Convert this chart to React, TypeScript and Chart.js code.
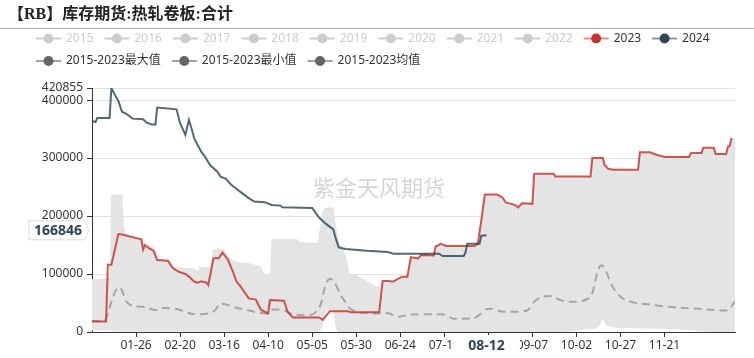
import React, { useEffect, useRef } from 'react';
import { Chart, registerables } from 'chart.js';

Chart.register(...registerables);

const FONT = "'Noto Sans', 'Noto Sans CJK SC', sans-serif";
const TITLE_FONT = "'Liberation Serif', 'Noto Sans CJK SC', serif";

const TITLE = '【RB】库存期货:热轧卷板:合计';
const WATERMARK = '紫金天风期货';

const hiddenYears = ['2015', '2016', '2017', '2018', '2019', '2020', '2021', '2022'];

const xTickDays = [25, 50, 75, 100, 125, 150, 175, 200, 225, 250, 275, 300, 325];
const xTickLabels = ['01-26', '02-20', '03-16', '04-10', '05-05', '05-30', '06-24', '07-19', '08-13', '09-07', '10-02', '10-27', '11-21'];
const yTickValues = [0, 100000, 200000, 300000, 400000, 420855];
const yMax = 420855;
const pointerDay = 224;
const pointerLabel = '08-12';

// 2024 series (day of year index, value)
const s2024Days = [0, 1, 2, 3, 10, 11, 13, 15, 17, 19, 21, 23, 29, 31, 34, 36, 37, 48, 50, 53, 55, 57, 58, 62, 64, 67, 71, 73, 76, 79, 85, 89, 92, 98, 102, 107, 108, 125, 129, 133, 137, 138, 140, 144, 156, 168, 171, 197, 199, 211, 212, 213, 220, 221, 224];
const s2024Values = [365000, 363000, 362000, 369000, 369000, 420855, 409000, 398000, 380000, 377000, 373000, 368000, 367000, 361000, 358000, 358000, 387000, 384000, 360000, 340000, 366000, 346000, 334000, 311000, 303000, 288000, 277000, 268000, 264000, 254000, 240000, 231000, 225000, 224000, 219000, 218000, 215000, 214000, 197000, 186000, 177000, 165000, 146000, 143000, 140000, 138000, 135000, 135000, 131000, 131000, 137000, 152000, 152000, 166000, 166846];

// 2023 series
const s2023Days = [0, 8, 9, 11, 15, 17, 28, 29, 30, 32, 35, 37, 43, 46, 49, 53, 55, 58, 60, 62, 65, 66, 69, 72, 74, 77, 80, 82, 84, 89, 93, 96, 100, 101, 109, 111, 114, 129, 131, 135, 145, 147, 163, 165, 168, 171, 176, 179, 181, 185, 187, 194, 195, 198, 201, 217, 219, 221, 223, 230, 233, 235, 238, 240, 242, 244, 250, 251, 262, 263, 283, 284, 290, 291, 293, 296, 310, 311, 317, 319, 325, 339, 340, 346, 347, 353, 354, 360, 361, 362, 363];
const s2023Values = [18000, 18000, 116000, 116000, 169000, 168000, 160000, 142000, 150000, 145000, 140000, 124000, 123000, 110000, 104000, 100000, 95500, 87000, 85000, 87500, 85000, 81000, 127000, 127000, 137000, 125500, 104000, 87000, 80000, 58000, 56000, 38000, 32000, 55000, 54000, 35000, 25000, 25000, 21000, 36000, 36000, 34000, 34000, 88000, 88000, 87000, 95500, 95500, 129000, 127000, 133000, 132000, 147000, 152000, 148500, 148500, 152000, 193000, 237000, 237000, 232000, 223000, 221000, 219000, 215000, 222000, 221000, 273000, 273000, 268000, 268000, 300000, 300000, 288000, 281500, 280000, 280000, 310000, 310000, 307000, 302000, 302000, 308600, 308600, 318000, 318000, 307000, 307000, 320000, 321000, 334500];

// 2015-2023 max
const maxDays = [0, 6, 7, 10, 11, 17, 18, 19, 28, 30, 36, 37, 44, 46, 58, 60, 61, 67, 69, 74, 78, 82, 90, 93, 96, 97, 99, 101, 102, 117, 118, 128, 129, 130, 132, 137, 138, 140, 143, 145, 146, 150, 153, 155, 157, 160, 163, 165, 168, 171, 176, 179, 181, 185, 187, 194, 195, 198, 201, 217, 219, 221, 223, 230, 233, 235, 238, 240, 242, 244, 250, 251, 262, 263, 283, 284, 290, 291, 293, 296, 310, 311, 317, 319, 325, 339, 340, 346, 347, 353, 354, 360, 361, 362, 363, 365];
const maxValues = [91000, 92000, 93000, 93000, 236600, 236600, 188000, 170000, 162000, 152000, 142000, 127000, 124000, 113000, 110000, 106000, 112000, 112000, 143000, 143000, 128000, 121000, 118000, 115000, 112000, 104000, 98000, 98000, 160000, 160000, 156000, 154000, 172000, 190000, 214000, 215000, 193000, 160000, 141000, 120000, 101000, 98000, 93000, 90000, 86000, 81000, 78000, 88600, 88000, 87000, 95500, 95500, 129000, 127000, 133000, 132000, 147000, 152000, 148500, 148500, 152000, 193000, 237000, 237000, 232000, 223000, 221000, 219000, 215000, 222000, 221000, 273000, 273000, 268000, 268000, 300000, 300000, 288000, 281500, 280000, 280000, 310000, 310000, 307000, 302000, 302000, 308600, 308600, 318000, 318000, 307000, 307000, 320000, 321000, 334500, 334500];

// 2015-2023 min
const minDays = [0, 10, 12, 126, 129, 131, 133, 135, 137, 138, 140, 268, 272, 283, 286, 289, 290, 292, 295, 310, 325, 340, 352, 365];
const minValues = [2500, 2500, 1000, 1000, 0, 12000, 34000, 38000, 36000, 12000, 0, 0, 1500, 5000, 6000, 16000, 22000, 11000, 8500, 6000, 5000, 3000, 0, 0];

// 2015-2023 mean
const meanDays = [0, 7, 9, 12, 15, 17, 19, 21, 26, 30, 36, 41, 47, 52, 58, 64, 70, 73, 77, 83, 88, 92, 99, 103, 109, 114, 122, 126, 130, 132, 135, 137, 139, 141, 143, 146, 154, 162, 167, 174, 181, 192, 200, 205, 216, 219, 223, 226, 234, 240, 247, 251, 256, 260, 266, 272, 281, 284, 287, 289, 291, 295, 300, 306, 315, 325, 344, 360, 363, 365];
const meanValues = [19000, 19000, 32000, 61000, 77000, 72000, 55000, 48000, 44000, 43000, 38000, 41500, 40000, 36000, 30500, 31000, 38000, 49500, 46500, 41000, 38000, 35000, 32000, 39000, 37000, 30500, 29000, 32000, 49500, 75000, 92000, 88000, 78000, 64000, 55000, 42000, 33000, 32000, 33000, 26500, 30000, 30500, 30000, 23000, 23500, 27500, 38000, 40000, 35000, 35000, 37000, 52000, 61000, 62000, 55000, 52000, 56500, 67000, 104000, 115000, 110000, 81000, 61000, 52000, 48000, 44000, 40000, 37000, 44000, 53000];

const toPoints = (days: number[], values: number[]) => days.map((d, i) => ({ x: d, y: values[i] }));

const legendPlugin = {
  id: 'ecLegend',
  afterDraw(chart: any, _args: any, opts: any) {
    const ctx = chart.ctx;
    ctx.save();
    ctx.font = `12px ${FONT}`;
    ctx.textBaseline = 'middle';
    ctx.textAlign = 'left';
    let x = opts.left;
    let y = opts.top;
    chart.data.datasets.forEach((ds: any, i: number) => {
      const tw = ctx.measureText(ds.label).width;
      const w = opts.iconWidth + opts.iconGap + tw;
      if (x + w > opts.maxRight) {
        x = opts.left;
        y += opts.rowHeight;
      }
      const hidden = !chart.isDatasetVisible(i);
      const lineCol = hidden ? '#ccc' : ds.legendLine;
      const dotCol = hidden ? '#ccc' : ds.legendDot;
      ctx.strokeStyle = lineCol;
      ctx.lineWidth = 2;
      ctx.setLineDash([]);
      ctx.beginPath();
      ctx.moveTo(x, y);
      ctx.lineTo(x + opts.iconWidth, y);
      ctx.stroke();
      ctx.fillStyle = dotCol;
      ctx.beginPath();
      ctx.arc(x + opts.iconWidth / 2, y, opts.dotRadius, 0, Math.PI * 2);
      ctx.fill();
      ctx.fillStyle = hidden ? '#ccc' : '#333';
      ctx.fillText(ds.label, x + opts.iconWidth + opts.iconGap, y);
      x += w + opts.itemGap;
    });
    ctx.restore();
  },
};

const watermarkPlugin = {
  id: 'watermark',
  beforeDatasetsDraw(chart: any, _args: any, opts: any) {
    const ctx = chart.ctx;
    ctx.save();
    ctx.font = `22px ${FONT}`;
    ctx.fillStyle = opts.color;
    ctx.textAlign = 'center';
    ctx.textBaseline = 'middle';
    ctx.fillText(opts.text, opts.x, opts.y);
    ctx.restore();
  },
};

const pointerPlugin = {
  id: 'pointer',
  afterDraw(chart: any, _args: any, opts: any) {
    const { ctx, chartArea } = chart;
    const xs = chart.scales.x;
    const ys = chart.scales.y;
    ctx.save();
    ctx.font = `bold 14px ${FONT}`;
    ctx.textAlign = 'center';
    ctx.textBaseline = 'middle';
    // x axis pointer label
    const px = xs.getPixelForValue(opts.day);
    const tw = ctx.measureText(opts.xLabel).width;
    ctx.fillStyle = '#fff';
    ctx.fillRect(px - tw / 2 - 15, xs.top + 3, tw + 30, 26);
    ctx.fillStyle = '#2f4554';
    ctx.fillText(opts.xLabel, px, xs.top + 14);
    // y axis pointer label
    const label = String(opts.value);
    const py = ys.getPixelForValue(opts.value) + opts.yShift;
    const tw2 = ctx.measureText(label).width;
    const tip = chartArea.left - 3;
    const right = tip - 4;
    const left = right - tw2 - 8;
    const h = 19;
    ctx.beginPath();
    ctx.moveTo(left, py - h / 2);
    ctx.lineTo(right, py - h / 2);
    ctx.lineTo(tip, py);
    ctx.lineTo(right, py + h / 2);
    ctx.lineTo(left, py + h / 2);
    ctx.closePath();
    ctx.fillStyle = '#fff';
    ctx.fill();
    ctx.strokeStyle = '#ddd';
    ctx.lineWidth = 1;
    ctx.stroke();
    ctx.fillStyle = '#2f4554';
    ctx.fillText(label, (left + right) / 2 + 1, py + 0.5);
    ctx.restore();
  },
};

export default function App() {
  const ref = useRef<HTMLCanvasElement>(null);

  useEffect(() => {
    Chart.defaults.font.family = FONT;
    const hiddenSets = hiddenYears.map((y) => ({
      label: y,
      data: [],
      hidden: true,
      legendLine: '#ccc',
      legendDot: '#ccc',
    }));
    const datasets: any[] = [
      ...hiddenSets,
      {
        label: '2023',
        data: toPoints(s2023Days, s2023Values),
        borderColor: 'rgba(200,56,52,0.85)',
        borderWidth: 2,
        fill: false,
        order: 2,
        legendLine: 'rgba(194,53,49,0.55)',
        legendDot: '#c23531',
      },
      {
        label: '2024',
        data: toPoints(s2024Days, s2024Values),
        borderColor: 'rgba(47,69,84,0.82)',
        borderWidth: 2,
        fill: false,
        order: 1,
        legendLine: 'rgba(47,69,84,0.55)',
        legendDot: '#2f4554',
      },
      {
        label: '2015-2023最大值',
        data: toPoints(maxDays, maxValues),
        borderColor: 'rgba(0,0,0,0)',
        borderWidth: 0,
        backgroundColor: '#e4e4e4',
        fill: '+1',
        cubicInterpolationMode: 'monotone',
        order: 10,
        legendLine: 'rgba(102,102,102,0.6)',
        legendDot: '#666',
      },
      {
        label: '2015-2023最小值',
        data: toPoints(minDays, minValues),
        borderColor: 'rgba(0,0,0,0)',
        borderWidth: 0,
        fill: false,
        cubicInterpolationMode: 'monotone',
        order: 10,
        legendLine: 'rgba(102,102,102,0.6)',
        legendDot: '#666',
      },
      {
        label: '2015-2023均值',
        data: toPoints(meanDays, meanValues),
        borderColor: '#a6a6a6',
        borderWidth: 2,
        borderDash: [8, 5],
        fill: false,
        cubicInterpolationMode: 'monotone',
        order: 5,
        legendLine: 'rgba(102,102,102,0.6)',
        legendDot: '#666',
      },
    ];

    const chart = new Chart(ref.current as HTMLCanvasElement, {
      type: 'line',
      data: { datasets },
      plugins: [watermarkPlugin, legendPlugin, pointerPlugin],
      options: {
        responsive: false,
        animation: false,
        layout: { padding: { left: 0, right: 19, top: 88, bottom: 0 } },
        elements: { point: { radius: 0 }, line: { tension: 0 } },
        plugins: {
          legend: { display: false },
          tooltip: { enabled: false },
          title: { display: false },
          ecLegend: {
            left: 36,
            top: 38.5,
            rowHeight: 22.5,
            iconWidth: 25,
            iconGap: 5,
            itemGap: 11,
            dotRadius: 5,
            maxRight: 740,
          },
          watermark: { text: WATERMARK, x: 379, y: 190, color: 'rgba(0,0,0,0.17)' },
          pointer: { day: pointerDay, xLabel: pointerLabel, value: s2024Values[s2024Values.length - 1], yShift: -5 },
        } as any,
        scales: {
          x: {
            type: 'linear',
            min: 0,
            max: 365,
            afterBuildTicks: (scale: any) => {
              scale.ticks = xTickDays.map((v) => ({ value: v }));
            },
            afterFit: (scale: any) => {
              scale.height = 26;
            },
            grid: { drawOnChartArea: false, drawTicks: true, tickLength: 5, tickColor: '#333' },
            border: { color: '#333' },
            ticks: {
              autoSkip: false,
              maxRotation: 0,
              padding: 1,
              color: '#333',
              font: { size: 12 },
              callback: (v: any) => {
                const i = xTickDays.indexOf(Number(v));
                return i >= 0 ? xTickLabels[i] : '';
              },
            },
          },
          y: {
            min: 0,
            max: yMax,
            afterBuildTicks: (scale: any) => {
              scale.ticks = yTickValues.map((v) => ({ value: v }));
            },
            afterFit: (scale: any) => {
              scale.width = 92;
            },
            grid: { color: '#e0e0e0', tickColor: '#333', tickLength: 5 },
            border: { color: '#333' },
            ticks: {
              padding: 4,
              color: '#333',
              font: { size: 12 },
              callback: (v: any) => String(v),
            },
          },
        },
      } as any,
    });
    return () => chart.destroy();
  }, []);

  return (
    <div style={{ position: 'absolute', left: 0, top: 0, width: 754, height: 358, background: '#fff', overflow: 'hidden' }}>
      <canvas
        ref={ref}
        width={754}
        height={358}
        style={{ position: 'absolute', left: 0, top: 0, width: 754, height: 358 }}
      />
      <div
        style={{
          position: 'absolute',
          left: 0,
          top: 0,
          width: 754,
          height: 29,
          boxSizing: 'border-box',
          borderBottom: '1px solid #aaa',
          paddingLeft: 8,
          lineHeight: '27px',
          fontSize: 16,
          fontWeight: 'bold',
          fontFamily: TITLE_FONT,
          color: '#222',
          whiteSpace: 'nowrap',
        }}
      >
        {TITLE}
      </div>
    </div>
  );
}
